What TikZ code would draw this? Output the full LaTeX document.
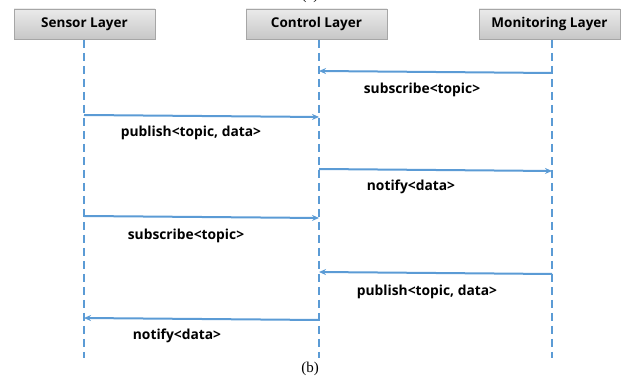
\documentclass[tikz,border=0pt]{standalone}
\usepackage{fontspec}
\setmainfont{Liberation Serif}
\newfontfamily\labelfont{Open Sans}
\usetikzlibrary{arrows.meta}
\definecolor{lineblue}{HTML}{5B9BD5}
\definecolor{boxedge}{HTML}{A6A6A6}
\tikzset{
  layerbox/.style={draw=boxedge, line width=0.8pt, top color=black!8, bottom color=black!22,
    minimum width=141pt, minimum height=30pt, inner sep=0pt,
    font=\labelfont\bfseries\fontsize{13.5}{15}\selectfont},
  lifeline/.style={draw=lineblue, line width=1.6pt, dash pattern=on 8pt off 5pt},
  msg/.style={draw=lineblue, line width=2pt, -{Stealth[length=7pt,width=6pt]}},
  msglabel/.style={font=\labelfont\bfseries\fontsize{13.8}{15}\selectfont, inner sep=0pt},
  caption/.style={font=\fontsize{15}{17}\selectfont, inner sep=0pt}
}
\begin{document}
\begin{tikzpicture}[x=1pt,y=-1pt]
  \useasboundingbox (0,0) rectangle (625,379);
  \begin{scope}
    \clip (0,0) rectangle (625,379);
    \node[caption] (capa) at (310,-4) {(a)};
  \end{scope}
  % layer headers
  \node[layerbox] (sensor) at (84.5,24) {Sensor Layer};
  \node[layerbox] (control) at (316.5,24) {Control Layer};
  \node[layerbox] (monitor) at (549.5,24) {Monitoring Layer};
  % lifeline ends
  \coordinate (sensorEnd) at (84,358);
  \coordinate (controlEnd) at (319,358);
  \coordinate (monitorEnd) at (552,358);
  \draw[lifeline] (84,40) -- (sensorEnd);
  \draw[lifeline] (319,40) -- (controlEnd);
  \draw[lifeline] (552,40) -- (monitorEnd);
  % message anchor points on lifelines
  \coordinate (m1a) at (552,73);  \coordinate (m1b) at (319,71);
  \coordinate (m2a) at (84,115);  \coordinate (m2b) at (319,117);
  \coordinate (m3a) at (319,169); \coordinate (m3b) at (552,171);
  \coordinate (m4a) at (84,216);  \coordinate (m4b) at (319,218);
  \coordinate (m5a) at (552,274); \coordinate (m5b) at (319,272);
  \coordinate (m6a) at (319,320); \coordinate (m6b) at (84,318);
  \draw[msg] (m1a) -- (m1b);
  \draw[msg] (m2a) -- (m2b);
  \draw[msg] (m3a) -- (m3b);
  \draw[msg] (m4a) -- (m4b);
  \draw[msg] (m5a) -- (m5b);
  \draw[msg] (m6a) -- (m6b);
  % message labels
  \node[msglabel] (l1) at (422,90) {subscribe<topic>};
  \node[msglabel] (l2) at (191,133) {publish<topic, data>};
  \node[msglabel] (l3) at (411,187) {notify<data>};
  \node[msglabel] (l4) at (186,236) {subscribe<topic>};
  \node[msglabel] (l5) at (427,292) {publish<topic, data>};
  \node[msglabel] (l6) at (177,336) {notify<data>};
  \node[caption] (capb) at (310,369) {(b)};
\end{tikzpicture}
\end{document}
